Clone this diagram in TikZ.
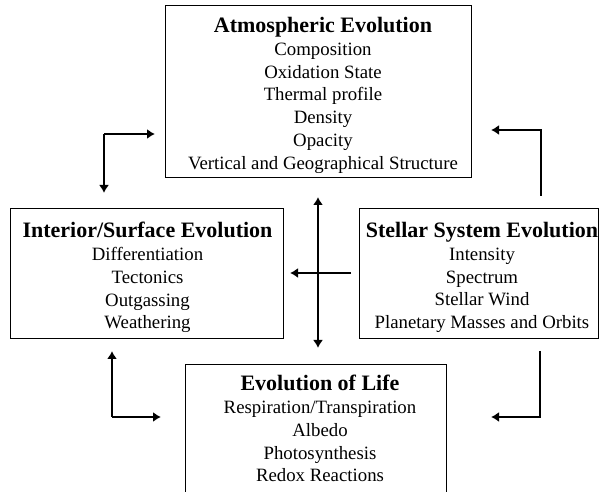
\documentclass[tikz,border=0pt]{standalone}
\usepackage{fontspec}
\setmainfont{Liberation Serif}
\usetikzlibrary{arrows.meta}
\begin{document}
\begin{tikzpicture}[x=1pt,y=1pt,
  box/.style={draw, line width=1.3pt, inner sep=0pt, anchor=north west},
  txt/.style={align=center, inner sep=0pt, anchor=north, font=\fontsize{18.8}{22.8}\selectfont},
  flow/.style={line width=2.5pt, -{Latex[length=8pt,width=10pt]}},
  bflow/.style={line width=2.5pt, {Latex[length=8pt,width=10pt]}-{Latex[length=8pt,width=10pt]}}]
\useasboundingbox (0,0) rectangle (606,492);
\clip (0,0) rectangle (606,492);
\fill[white] (0,0) rectangle (606,492);
% boxes
\node[box, minimum width=306pt, minimum height=172pt] (atm) at (165,487) {};
\node[box, minimum width=273pt, minimum height=130pt] (int) at (10,284) {};
\node[box, minimum width=239pt, minimum height=130pt] (ste) at (359,284) {};
\node[box, minimum width=261pt, minimum height=150pt] (lif) at (185,128) {};
% texts
\newcommand{\ttlfont}{\fontsize{22}{24}\selectfont\bfseries}
\node[txt] (atmT) at (323,475) {{\ttlfont Atmospheric Evolution}\\Composition\\Oxidation State\\Thermal profile\\Density\\Opacity\\Vertical and Geographical Structure};
\node[txt] (intT) at (147.5,270) {{\ttlfont Interior/Surface Evolution}\\Differentiation\\Tectonics\\Outgassing\\Weathering};
\node[txt] (steT) at (482,270) {{\ttlfont Stellar System Evolution}\\Intensity\\Spectrum\\Stellar Wind\\Planetary Masses and Orbits};
\node[txt] (lifT) at (320,117) {{\ttlfont Evolution of Life}\\Respiration/Transpiration\\Albedo\\Photosynthesis\\Redox Reactions};
% connector coordinates
\coordinate (tlc) at (104,358);
\coordinate (tld) at (104,299);
\coordinate (tlr) at (155,358);
\coordinate (trs) at (541,296);
\coordinate (trc) at (541,362);
\coordinate (tre) at (491,362);
\coordinate (blc) at (112,75);
\coordinate (blu) at (112,141);
\coordinate (blr) at (161,75);
\coordinate (brs) at (540,141);
\coordinate (brc) at (540,75);
\coordinate (bre) at (491,75);
\coordinate (cvt) at (318,295);
\coordinate (cvb) at (318,144);
\coordinate (chs) at (351,219);
\coordinate (che) at (290,219);
% connectors
\draw[flow] (tlc) -- (tld);
\draw[flow] (tlc) -- (tlr);
\draw[flow] (trs) -- (trc) -- (tre);
\draw[flow] (blc) -- (blu);
\draw[flow] (blc) -- (blr);
\draw[flow] (brs) -- (brc) -- (bre);
\draw[bflow] (cvt) -- (cvb);
\draw[flow] (chs) -- (che);
\end{tikzpicture}
\end{document}
